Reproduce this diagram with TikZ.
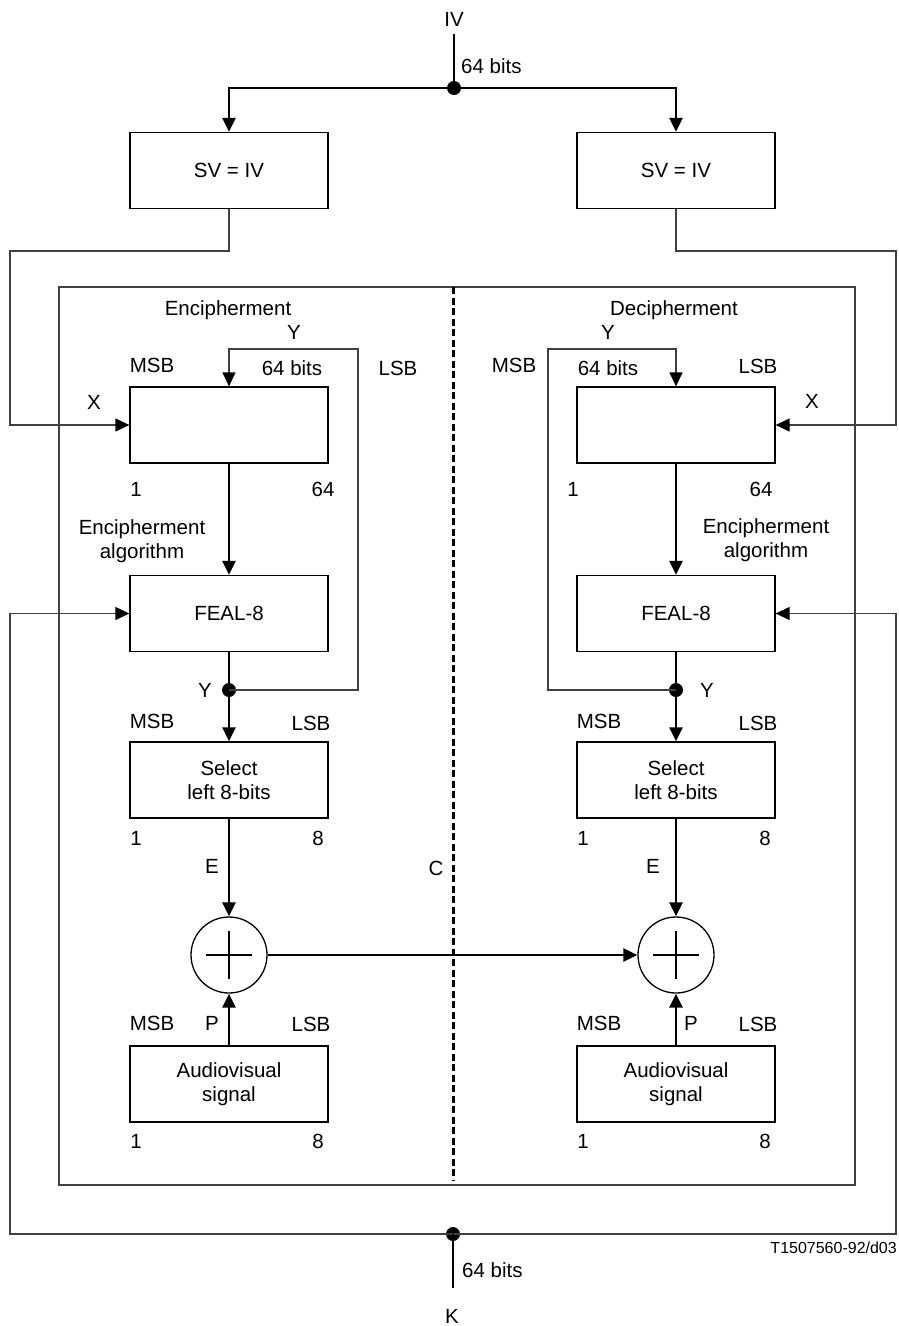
\documentclass[tikz,border=0pt]{standalone}
\usepackage{fontspec}
\setmainfont{Liberation Sans}
\usetikzlibrary{arrows.meta}
\begin{document}
\begin{tikzpicture}[x=1pt,y=-1pt,
  every node/.style={font=\fontsize{20.5}{24}\selectfont},
  blk/.style={draw,line width=1.3pt,minimum width=198pt,minimum height=76pt,inner sep=0pt,align=center},
  lbl/.style={anchor=base,inner sep=0pt},
  heavy/.style={line width=2.4pt},
  light/.style={line width=1.3pt,draw=black!75},
  arw/.style={-{Triangle[length=14pt,width=13pt,color=black]}},
  jdot/.style={circle,fill,inner sep=0pt,minimum size=14pt},
  xorc/.style={circle,draw,line width=1.3pt,minimum size=76pt,inner sep=0pt},
  plusline/.style={line width=1.6pt}]
\useasboundingbox (0,0) rectangle (898,1326);

% ---------- top ----------
\node[lbl] (iv) at (454,26) {IV};
\coordinate (ivend) at (454,34);
\node[jdot] (topdot) at (454,88) {};
\node[lbl,anchor=base west] (ivbits) at (461,73) {64 bits};
\node[blk] (svL) at (229,170.5) {SV = IV};
\node[blk] (svR) at (676,170.5) {SV = IV};
\draw[heavy] (ivend) -- (topdot.center);
\draw[heavy,arw] (topdot.center) -| (svL.north);
\draw[heavy,arw] (topdot.center) -| (svR.north);

% ---------- frame and divider ----------
\draw[light] (59,287) rectangle (855,1185);
\draw[line width=3pt,dash pattern=on 7pt off 3.5pt] (453,287) -- (453,1181);

% ---------- left column ----------
\node[blk] (regL) at (229,425) {};
\node[blk] (fealL) at (229,613.5) {FEAL-8};
\node[jdot] (dotL) at (229,690) {};
\node[blk] (selL) at (229,780) {Select\\left 8-bits};
\node[xorc] (xorL) at (229,955) {};
\node[blk] (avL) at (229,1084) {Audiovisual\\signal};

% ---------- right column ----------
\node[blk] (regR) at (676,425) {};
\node[blk] (fealR) at (676,613.5) {FEAL-8};
\node[jdot] (dotR) at (676,690) {};
\node[blk] (selR) at (676,780) {Select\\left 8-bits};
\node[xorc] (xorR) at (676,955) {};
\node[blk] (avR) at (676,1084) {Audiovisual\\signal};

% plus signs
\draw[plusline] ([xshift=-23pt]xorL.center) -- ([xshift=23pt]xorL.center);
\draw[plusline] ([yshift=-24pt]xorL.center) -- ([yshift=24pt]xorL.center);
\draw[plusline] ([xshift=-23pt]xorR.center) -- ([xshift=23pt]xorR.center);
\draw[plusline] ([yshift=-24pt]xorR.center) -- ([yshift=24pt]xorR.center);

% main data paths
\draw[heavy,arw] (regL) -- (fealL);
\draw[heavy] (fealL) -- (dotL.center);
\draw[heavy,arw] (dotL.center) -- (selL);
\draw[heavy,arw] (selL) -- (xorL);
\draw[heavy,arw] (avL) -- (xorL);
\draw[heavy,arw] (regR) -- (fealR);
\draw[heavy] (fealR) -- (dotR.center);
\draw[heavy,arw] (dotR.center) -- (selR);
\draw[heavy,arw] (selR) -- (xorR);
\draw[heavy,arw] (avR) -- (xorR);
\draw[heavy,arw] (xorL) -- (xorR);

% feedback loops
\coordinate (fbL) at (358,349);
\coordinate (fbR) at (548,349);
\draw[light,arw] (dotL.center) -| (fbL) -| (regL.north);
\draw[light,arw] (dotR.center) -| (fbR) -| (regR.north);

% SV -> X paths
\coordinate (xL) at (10,251);
\coordinate (xR) at (896,251);
\draw[light,arw] (svL.south) |- (xL) |- (regL.west);
\draw[light,arw] (svR.south) |- (xR) |- (regR.east);

% key paths
\node[jdot] (keydot) at (453,1234) {};
\coordinate (kL) at (10,1234);
\coordinate (kR) at (896,1234);
\coordinate (kend) at (453,1288);
\draw[light,arw] (keydot.center) -- (kL) |- (fealL.west);
\draw[light,arw] (keydot.center) -- (kR) |- (fealR.east);
\draw[heavy] (keydot.center) -- (kend);

% ---------- left labels ----------
\node[lbl] (lEnc) at (228,315) {Encipherment};
\node[lbl] (lY1) at (294,339) {Y};
\node[lbl] (lMSB1) at (152,372) {MSB};
\node[lbl] (lBits) at (292,375) {64 bits};
\node[lbl] (lLSB1) at (398,375) {LSB};
\node[lbl] (lX) at (94,409) {X};
\node[lbl] (lOne1) at (136,496) {1};
\node[lbl] (lSix) at (323,496) {64};
\node[align=center,inner sep=0pt] (lAlg) at (142,541) {Encipherment\\algorithm};
\node[lbl] (lY2) at (205,697) {Y};
\node[lbl] (lMSB2) at (152,728) {MSB};
\node[lbl] (lLSB2) at (311,730) {LSB};
\node[lbl] (lOne2) at (136,845) {1};
\node[lbl] (lEight2) at (318,845) {8};
\node[lbl] (lE) at (212,873) {E};
\node[lbl] (lMSB3) at (152,1030) {MSB};
\node[lbl] (lP) at (212,1030) {P};
\node[lbl] (lLSB3) at (311,1031) {LSB};
\node[lbl] (lOne3) at (136,1148) {1};
\node[lbl] (lEight3) at (318,1148) {8};

% ---------- right labels ----------
\node[lbl] (rDec) at (674,315) {Decipherment};
\node[lbl] (rY1) at (608,339) {Y};
\node[lbl] (rMSB1) at (514,372) {MSB};
\node[lbl] (rBits) at (608,375) {64 bits};
\node[lbl] (rLSB1) at (758,373) {LSB};
\node[lbl] (rX) at (812,408) {X};
\node[lbl] (rOne1) at (573,496) {1};
\node[lbl] (rSix) at (761,496) {64};
\node[align=center,inner sep=0pt] (rAlg) at (766,540) {Encipherment\\algorithm};
\node[lbl] (rY2) at (707,697) {Y};
\node[lbl] (rMSB2) at (599,728) {MSB};
\node[lbl] (rLSB2) at (758,730) {LSB};
\node[lbl] (rOne2) at (583,845) {1};
\node[lbl] (rEight2) at (765,845) {8};
\node[lbl] (rE) at (653,873) {E};
\node[lbl] (rMSB3) at (599,1030) {MSB};
\node[lbl] (rP) at (691,1030) {P};
\node[lbl] (rLSB3) at (758,1031) {LSB};
\node[lbl] (rOne3) at (583,1148) {1};
\node[lbl] (rEight3) at (765,1148) {8};

% ---------- centre and bottom labels ----------
\node[lbl] (cC) at (436,875) {C};
\node[lbl,anchor=base west] (kbits) at (462,1277) {64 bits};
\node[lbl] (kK) at (452,1323) {K};
\node[lbl,anchor=base east,font=\fontsize{16}{19}\selectfont] (ref) at (897,1253) {T1507560-92/d03};
\end{tikzpicture}
\end{document}
